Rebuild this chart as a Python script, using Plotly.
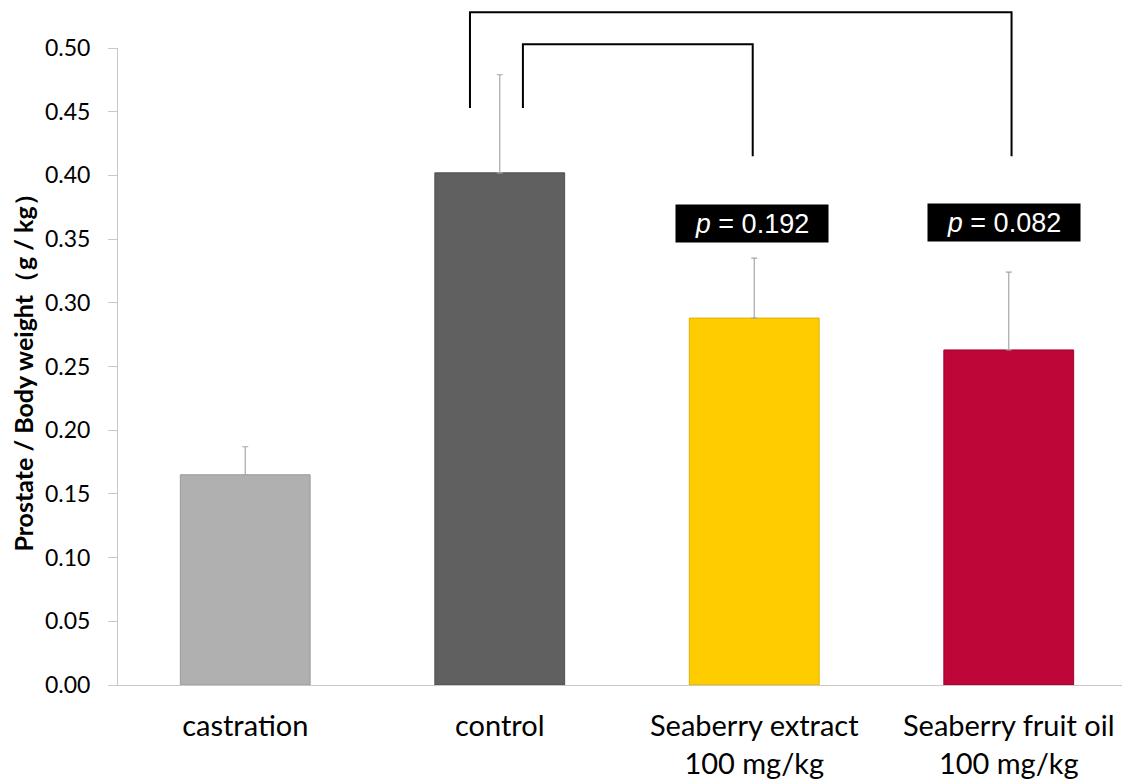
import plotly.graph_objects as go

categories = ["castration", "control", "Seaberry extract<br>100 mg/kg", "Seaberry fruit oil<br>100 mg/kg"]
means = [0.165, 0.402, 0.288, 0.263]
errors = [0.022, 0.077, 0.047, 0.061]
colors = ["#B0B0B0", "#606060", "#FFCC00", "#BE0639"]
edge_colors = ["#9A9A9A", "#4E4E4E", "#E0B000", "#A00030"]
y_ticks = [0.00, 0.05, 0.10, 0.15, 0.20, 0.25, 0.30, 0.35, 0.40, 0.45, 0.50]
p_labels = ["<i>p</i> = 0.192", "<i>p</i> = 0.082"]
p_positions = [(1.99, 0.3626), (2.98, 0.3632)]

fig = go.Figure()
fig.add_trace(go.Bar(
    x=categories, y=means, width=0.51,
    marker=dict(color=colors, line=dict(color=edge_colors, width=1)),
    error_y=dict(type="data", array=errors, arrayminus=[0]*4, symmetric=False,
                 color="#A6A6A6", thickness=1.2, width=3),
    showlegend=False,
))

ymax = 0.5
def py(v):
    return v / ymax

# brackets (control vs extract, control vs oil)
brackets = [
    (0.883, 3.011, 0.453, 0.528, 0.415),
    (1.091, 1.994, 0.453, 0.503, 0.415),
]
for x0, x1, yl, yt, yr in brackets:
    fig.add_shape(type="path", xref="x", yref="paper",
                  path=f"M {x0} {py(yl)} L {x0} {py(yt)} L {x1} {py(yt)} L {x1} {py(yr)}",
                  line=dict(color="black", width=2))

for (xc, yc), lab in zip(p_positions, p_labels):
    fig.add_annotation(x=xc, y=yc, xref="x", yref="y", text=lab, showarrow=False,
                       font=dict(family="Liberation Sans, Arial", size=27, color="white"),
                       bgcolor="black", borderpad=4, width=144, height=29)

fig.update_layout(
    width=1130, height=783,
    margin=dict(l=110, r=2, t=40, b=106),
    plot_bgcolor="white", paper_bgcolor="white",
    bargap=0.49,
    font=dict(family="Lato, Noto Sans, sans-serif", color="black"),
)
fig.update_xaxes(
    type="category", range=[-0.5, 3.5],
    showline=True, linecolor="#C8C8C8", linewidth=1,
    ticks="", tickfont=dict(size=29, family="Lato"), ticklabelstandoff=15,
    showgrid=False,
)
fig.update_yaxes(
    range=[0, 0.5], tickvals=y_ticks, ticktext=[f"{v:.2f}" for v in y_ticks],
    showline=True, linecolor="#C8C8C8", linewidth=1,
    ticks="outside", ticklen=9, tickcolor="#C8C8C8",
    tickfont=dict(size=23, family="Lato"), ticklabelstandoff=13,
    showgrid=False, zeroline=False,
    title=dict(text="<b>Prostate / Body weight（g / kg）</b>", font=dict(size=25, family="Lato"), standoff=8),
)

fig.write_html("out.html")
